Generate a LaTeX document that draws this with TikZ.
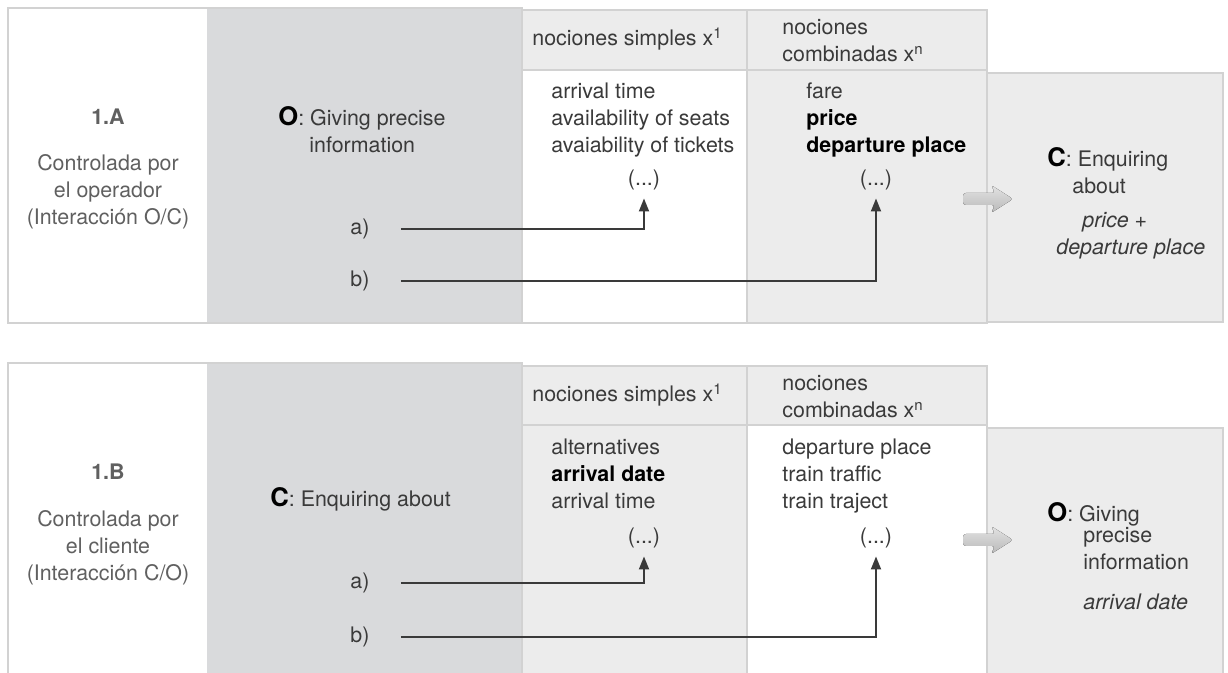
\documentclass[tikz,border=0pt]{standalone}
\usepackage{fontspec}
\setmainfont{TeX Gyre Heros}
\usetikzlibrary{arrows.meta}
\usetikzlibrary{positioning}

\definecolor{colfondo}{HTML}{D9DADC}
\definecolor{colclaro}{HTML}{ECECEC}
\definecolor{colborde}{HTML}{D2D2D2}
\definecolor{coltexto}{HTML}{3A3A3A}
\definecolor{colsuave}{HTML}{606060}

\newcommand{\letra}[1]{{\fontsize{12.8}{13.5}\selectfont\bfseries\color{black}#1}}

\begin{document}
\begin{tikzpicture}[
		x=0.5pt, y=-0.5pt,
		caja/.style={draw=colborde, line width=0.6pt},
		txt/.style={font=\fontsize{10.7}{13.5}\selectfont, text=coltexto, inner sep=0pt, align=left},
		ctrl/.style={txt, text=colsuave, align=center},
		puntos/.style={txt, inner sep=4pt},
		arrow/.style={line width=0.9pt, draw=coltexto, -{Triangle[length=6.5pt,width=5pt]}},
		flecha/.style={rounded corners=1.5pt, top color=gray!22, bottom color=gray!55},
	]
	\useasboundingbox (0,0) rectangle (1228,673);

	% 1.A: controlada por el operador
	\begin{scope}
		\fill[white] (8,8) rectangle (207,323);
		\fill[colfondo] (207,8) rectangle (522,323);
		\draw[caja] (8,8) rectangle (522,323);
		\draw[caja, fill=colclaro] (522,10) rectangle (747,70);
		\draw[caja, fill=colclaro] (747,10) rectangle (987,70);
		\draw[caja, fill=white] (522,70) rectangle (747,323);
		\draw[caja, fill=colclaro] (747,70) rectangle (987,323);
		\draw[caja, fill=colclaro] (987,73) rectangle (1223,322);

		\node[ctrl, font=\fontsize{10.7}{13.5}\selectfont\bfseries] (numA) at (108,117) {1.A};
		\node[ctrl] (ctrlA) at (108,192) {Controlada por\\el operador\\(Interacción O/C)};
		\node[txt, anchor=base west] (rolA) at (278,153) {\letra{O}: Giving precise\\\hspace*{15.5pt}information};
		\node[txt] (labAa) at (360,229) {a)};
		\node[txt] (labAb) at (360,281) {b)};

		\node[txt, anchor=base west] (cabSA) at (532,46) {nociones simples x\textsuperscript{1}};
		\node[txt, anchor=base west] (cabCA) at (782,62) {nociones\\combinadas x\textsuperscript{n}};
		\node[txt, anchor=base west] (listSA) at (551,153) {arrival time\\availability of seats\\avaiability of tickets};
		\node[txt, anchor=base west] (listCA) at (806,153) {fare\\\textbf{\color{black}price}\\\textbf{\color{black}departure place}};
		\node[puntos] (dotsSA) at (644,180) {(...)};
		\node[puntos] (dotsCA) at (876,180) {(...)};

		\coordinate (flechaA) at (988,199);
		\fill[flecha] (flechaA) ++(-25,-6) -- ++(32,0) -- ++(-4,-8) -- ++(22,14) -- ++(-22,14) -- ++(4,-8) -- ++(-32,0) -- cycle;
		\node[txt, anchor=base west] (resA) at (1047,255)
			{\letra{C}: Enquiring\\\hspace*{12.5pt}about\\[3.5pt]\hspace*{17.5pt}\textit{price +}\\\hspace*{4.5pt}\textit{departure place}};

		\draw[arrow] ([xshift=15.5pt]labAa.east) -| (dotsSA.south);
		\draw[arrow] ([xshift=15.5pt]labAb.east) -| (dotsCA.south);
	\end{scope}

	% 1.B: controlada por el cliente
	\begin{scope}[shift={(0,356)}]
		\fill[white] (8,7) rectangle (207,323);
		\fill[colfondo] (207,7) rectangle (522,323);
		\draw[caja] (8,7) rectangle (522,323);
		\draw[caja, fill=colclaro] (522,10) rectangle (747,69);
		\draw[caja, fill=colclaro] (747,10) rectangle (987,69);
		\draw[caja, fill=colclaro] (522,69) rectangle (747,323);
		\draw[caja, fill=white] (747,69) rectangle (987,323);
		\draw[caja, fill=colclaro] (987,72) rectangle (1223,322);

		\node[ctrl, font=\fontsize{10.7}{13.5}\selectfont\bfseries] (numB) at (108,116) {1.B};
		\node[ctrl] (ctrlB) at (108,192) {Controlada por\\el cliente\\(Interacción C/O)};
		\node[txt, anchor=base west] (rolB) at (270,151) {\letra{C}: Enquiring about};
		\node[txt] (labBa) at (360,227) {a)};
		\node[txt] (labBb) at (360,281) {b)};

		\node[txt, anchor=base west] (cabSB) at (532,46) {nociones simples x\textsuperscript{1}};
		\node[txt, anchor=base west] (cabCB) at (782,62) {nociones\\combinadas x\textsuperscript{n}};
		\node[txt, anchor=base west] (listSB) at (551,153) {alternatives\\\textbf{\color{black}arrival date}\\arrival time};
		\node[txt, anchor=base west] (listCB) at (782,153) {departure place\\train traffic\\train traject};
		\node[puntos] (dotsSB) at (644,182) {(...)};
		\node[puntos] (dotsCB) at (876,182) {(...)};

		\coordinate (flechaB) at (988,184);
		\fill[flecha] (flechaB) ++(-25,-6) -- ++(32,0) -- ++(-4,-8) -- ++(22,14) -- ++(-22,14) -- ++(4,-8) -- ++(-32,0) -- cycle;
		\node[txt, anchor=base west] (resB) at (1047,254)
			{\letra{O}: Giving\\[-3pt]\hspace*{18pt}precise\\\hspace*{18pt}information\\[6.5pt]\hspace*{18pt}\textit{arrival date}};

		\draw[arrow] ([xshift=15.5pt]labBa.east) -| (dotsSB.south);
		\draw[arrow] ([xshift=15.5pt]labBb.east) -| (dotsCB.south);
	\end{scope}
\end{tikzpicture}
\end{document}
